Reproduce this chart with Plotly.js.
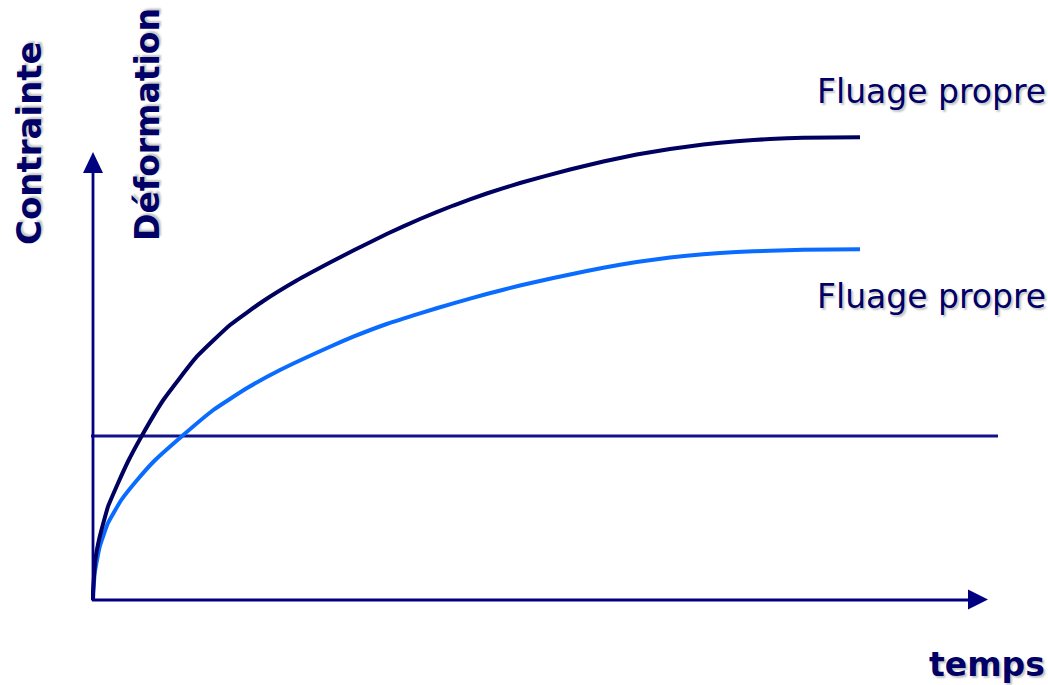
<!DOCTYPE html>
<html>
<head>
<meta charset="utf-8">
<script src="https://cdn.plot.ly/plotly-3.0.1.min.js"></script>
<style>html,body{margin:0;padding:0;background:#fff;}#chart{width:1048px;height:685px;}</style>
</head>
<body>
<div id="chart"></div>
<script>
// Time (arbitrary units) and deformation values
const tempsTotal = [0, 0, 0.23, 0.67, 1.5, 2.5, 3.5, 4.83, 7.03, 10.37, 13.7, 17.03, 20.37, 23.7, 26.03, 29.37, 32.7, 36.03, 39.37, 42.7, 47.7, 51.03, 54.37, 57.7, 61.03, 64.37, 67.7, 71.03, 76.7];
const deformationTotal = [0, 0.7, 4.0, 6.33, 9.33, 11.67, 13.85, 16.33, 20.0, 24.33, 27.5, 29.9, 31.95, 33.75, 34.95, 36.6, 38.1, 39.45, 40.65, 41.7, 43.05, 43.85, 44.55, 45.1, 45.55, 45.88, 46.1, 46.23, 46.27];
const tempsPropre = [0, 0.17, 0.67, 1.5, 2.83, 4.5, 6.17, 8.83, 12.03, 15.37, 18.7, 23.7, 26.03, 29.37, 32.7, 36.03, 39.37, 42.7, 46.03, 47.7, 51.03, 54.37, 57.7, 61.03, 64.37, 67.7, 71.03, 76.7];
const deformationPropre = [0, 2.7, 5.33, 7.7, 10.0, 12.1, 13.95, 16.33, 19.0, 21.17, 23.0, 25.33, 26.33, 27.6, 28.67, 29.67, 30.6, 31.45, 32.2, 32.55, 33.23, 33.8, 34.25, 34.57, 34.8, 34.93, 35.03, 35.07];
const tempsContrainte = [-0.2, 90.5];
const contrainte = [16.4, 16.4];
const labels = {contrainte: 'Contrainte', deformation: 'Déformation', temps: 'temps', courbe1: 'Fluage propre', courbe2: 'Fluage propre'};

const W = 1048, H = 685;
const X0 = -9.3, X1 = 95.5, Y0 = -8.5, Y1 = 60;
const navy = '#000080';
const textColor = '#000066';
const shadow = '2px 2px 2px #c4c4c4';
function pxX(p){ return p / W; }
function pxY(p){ return 1 - p / H; }

const traces = [
  {x: tempsContrainte, y: contrainte, mode: 'lines', line: {color: '#12128a', width: 2.8}, hoverinfo: 'skip'},
  {x: tempsPropre, y: deformationPropre, mode: 'lines', line: {color: '#0a6cff', width: 4, shape: 'spline', smoothing: 0.4}, hoverinfo: 'skip'},
  {x: tempsTotal, y: deformationTotal, mode: 'lines', line: {color: '#000060', width: 4, shape: 'spline', smoothing: 0.4}, hoverinfo: 'skip'}
];

const shapes = [
  {type: 'line', xref: 'x', yref: 'paper', x0: 0, x1: 0, y0: pxY(601), y1: pxY(170), line: {color: navy, width: 2.8}},
  {type: 'line', xref: 'paper', yref: 'y', x0: pxX(92), x1: pxX(970), y0: 0, y1: 0, line: {color: navy, width: 2.8}},
  {type: 'path', xref: 'paper', yref: 'paper', path: `M ${pxX(93)} ${pxY(152)} L ${pxX(83)} ${pxY(173)} L ${pxX(103)} ${pxY(173)} Z`, fillcolor: navy, line: {width: 0}},
  {type: 'path', xref: 'paper', yref: 'paper', path: `M ${pxX(988)} ${pxY(599.5)} L ${pxX(968)} ${pxY(589.5)} L ${pxX(968)} ${pxY(609.5)} Z`, fillcolor: navy, line: {width: 0}}
];

const fontB = 'DejaVu Sans, Verdana, sans-serif';
const annotations = [
  {text: labels.contrainte, xref: 'paper', yref: 'paper', x: pxX(29), y: pxY(143), textangle: -90, showarrow: false, xanchor: 'center', yanchor: 'middle', font: {family: fontB, size: 34, color: textColor, weight: 'bold', shadow: shadow}},
  {text: labels.deformation, xref: 'paper', yref: 'paper', x: pxX(147), y: pxY(125), textangle: -90, showarrow: false, xanchor: 'center', yanchor: 'middle', font: {family: fontB, size: 33, color: textColor, weight: 'bold', shadow: shadow}},
  {text: labels.temps, xref: 'paper', yref: 'paper', x: pxX(1047), y: pxY(664), showarrow: false, xanchor: 'right', yanchor: 'middle', font: {family: fontB, size: 33, color: textColor, weight: 'bold', shadow: shadow}},
  {text: labels.courbe1, xref: 'paper', yref: 'paper', x: pxX(815), y: pxY(91), showarrow: false, xanchor: 'left', yanchor: 'middle', font: {family: fontB, size: 33, color: textColor, shadow: shadow}},
  {text: labels.courbe2, xref: 'paper', yref: 'paper', x: pxX(815), y: pxY(296), showarrow: false, xanchor: 'left', yanchor: 'middle', font: {family: fontB, size: 33, color: textColor, shadow: shadow}}
];

const layout = {
  width: W, height: H,
  margin: {l: 0, r: 0, t: 0, b: 0, pad: 0},
  paper_bgcolor: '#ffffff', plot_bgcolor: '#ffffff',
  showlegend: false,
  xaxis: {range: [X0, X1], visible: false, fixedrange: true},
  yaxis: {range: [Y0, Y1], visible: false, fixedrange: true},
  shapes: shapes,
  annotations: annotations
};

Plotly.newPlot('chart', traces, layout, {displayModeBar: false, staticPlot: true});
</script>
</body>
</html>
